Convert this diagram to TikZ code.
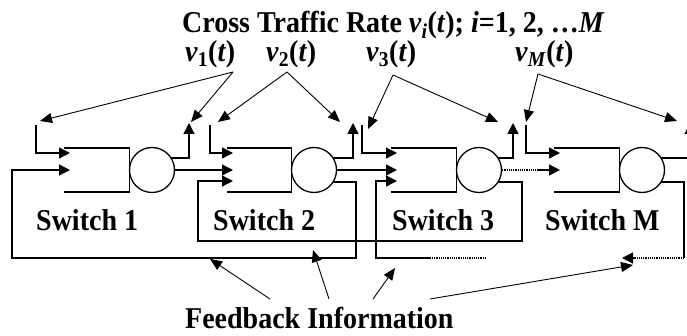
\documentclass[tikz,border=0pt]{standalone}
\usepackage{fontspec}
\setmainfont{Liberation Serif}
\usetikzlibrary{arrows.meta}
\newcommand{\tall}[1]{\scalebox{1}[1.08]{#1}}
\tikzset{
  ln/.style={line width=1.3pt},
  inarr/.style={line width=1.3pt, -{Triangle[length=11pt,width=11pt]}},
  thinarr/.style={line width=0.9pt, -{Triangle[length=12pt,width=10pt]}},
  dots/.style={line width=1.4pt, dash pattern=on 1.3pt off 0.9pt},
  lbl/.style={font=\fontsize{28}{30}\selectfont\bfseries, inner sep=0pt, anchor=base west},
  srv/.style={circle, draw, line width=1.3pt, minimum size=45pt, inner sep=0pt},
}
\begin{document}
\begin{tikzpicture}[x=1pt,y=-1pt]
\useasboundingbox (0,0) rectangle (687,336);
\clip (0,0) rectangle (687,336);
% queues and servers
\foreach \n/\L/\c in {1/64/152, 2/227/314, 3/391/479, M/554/642} {
  \draw[ln] (\L,148) -| (\c-22.5,192) -- (\L,192);
  \node[srv] (c\n) at (\c,170) {};
}
% upper inputs
\draw[inarr] (36,125) |- (70,153);
\draw[inarr] (210,125) |- (233,153);
\draw[inarr] (362,125) |- (397,153);
\draw[inarr] (526,125) |- (560,153);
% upper outputs
\draw[inarr] (171,158) -| (189,123);
\draw[inarr] (333,158) -| (353,123);
\draw[inarr] (498,158) -| (513,123);
\draw[inarr] (661,158) -| (690,123);
% through traffic
\draw[inarr] (c1.east) -- (233,170);
\draw[inarr] (c2.east) -- (397,170);
\draw[dots] (c3.east) -- (537,170);
\draw[inarr] (537,170) -- (560,170);
% feedback loops
\draw[inarr] (333,182) -| (356,258) -| (12,170) -- (70,170);
\draw[inarr] (498,182) -| (522,241) -| (198,181) -- (233,181);
\draw[dots] (486,258) -- (430,258);
\draw[inarr] (430,258) -| (376,181) -- (397,181);
\draw[ln] (661,182) -| (684,258);
\draw[dots] (684,258) -- (634,258);
\draw[inarr] (634,258) -- (622,258);
% cross traffic arrows
\coordinate (a1) at (233,72);
\coordinate (a2) at (287,72);
\coordinate (a3) at (393,75);
\coordinate (aM) at (538,74);
\draw[thinarr] (a1) -- (40,121);
\draw[thinarr] (a1) -- (191,122);
\draw[thinarr] (a2) -- (218,122);
\draw[thinarr] (a2) -- (340,122);
\draw[thinarr] (a3) -- (368,129);
\draw[thinarr] (a3) -- (498,122);
\draw[thinarr] (aM) -- (526,122);
\draw[thinarr] (aM) -- (677,121);
% feedback information arrows
\draw[thinarr] (270,299) -- (210,259);
\draw[thinarr] (329,299) -- (313,250);
\draw[thinarr] (373,299) -- (395,268);
\draw[thinarr] (430,299) -- (633,265);
% labels
\node[lbl] (title) at (182,33) {\tall{Cross Traffic Rate \textit{v}\textsubscript{\textit{i}}(\textit{t}); \textit{i}=1, 2, …\textit{M}}};
\node[lbl] (v1) at (185,62) {\tall{\textit{v}\textsubscript{1}(\textit{t})}};
\node[lbl] (v2) at (266,62) {\tall{\textit{v}\textsubscript{2}(\textit{t})}};
\node[lbl] (v3) at (366,62) {\tall{\textit{v}\textsubscript{3}(\textit{t})}};
\node[lbl] (vM) at (515,62) {\tall{\textit{v}\textsubscript{\textit{M}}(\textit{t})}};
\node[lbl] (s1) at (36,231) {\tall{Switch 1}};
\node[lbl] (s2) at (213,231) {\tall{Switch 2}};
\node[lbl] (s3) at (392,231) {\tall{Switch 3}};
\node[lbl] (sM) at (545,231) {\tall{Switch M}};
\node[lbl] (fb) at (185,328) {\tall{Feedback Information}};
\end{tikzpicture}
\end{document}
